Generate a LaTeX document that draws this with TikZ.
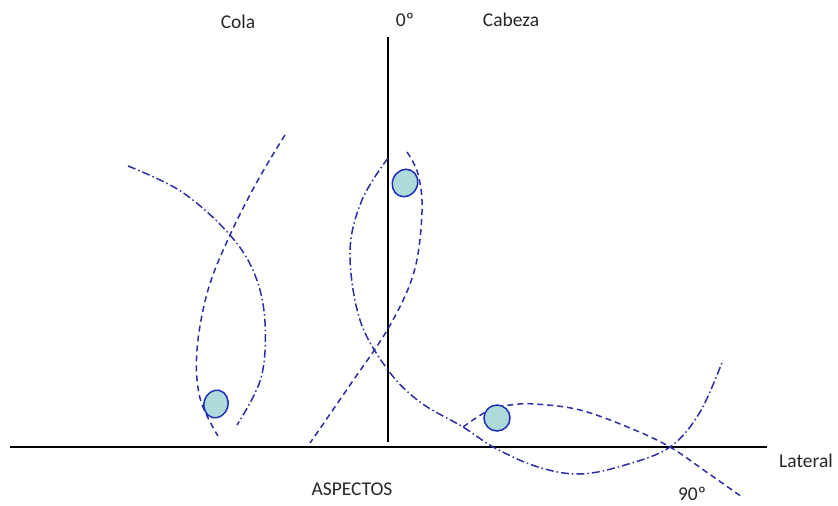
\documentclass[tikz,border=0pt]{standalone}
\usepackage{fontspec}
\setmainfont{Carlito}
\usetikzlibrary{shapes.geometric}
\definecolor{fishblue}{RGB}{45,45,165}
\definecolor{eyeedge}{RGB}{30,45,185}
\definecolor{eyefill}{RGB}{175,218,218}
\begin{document}
\begin{tikzpicture}[x=1pt,y=-1pt,
  axis/.style={line width=2.4pt,black},
  lbl/.style={font=\fontsize{19.5}{22}\selectfont,text=black!85,inner sep=0pt},
  dsh/.style={fishblue,line width=1.5pt,dash pattern=on 6pt off 4pt},
  dshdot/.style={fishblue,line width=1.5pt,dash pattern=on 8pt off 3pt on 1.5pt off 3pt},
  eye/.style={ellipse,draw=eyeedge,fill=eyefill,line width=1.5pt,inner sep=0pt}]
\useasboundingbox (0,0) rectangle (838,506);
% axes
\coordinate (hl) at (10,447);
\coordinate (hr) at (767,447);
\coordinate (vt) at (388,37);
\coordinate (vb) at (388,442);
\draw[axis] (hl) -- (hr);
\draw[axis] (vt) -- (vb);
% labels
\node[lbl] (cola) at (238,22) {Cola};
\node[lbl] (zero) at (405,20) {0º};
\node[lbl] (cabeza) at (511,20) {Cabeza};
\node[lbl] (lateral) at (806,461) {Lateral};
\node[lbl] (aspectos) at (352,489) {ASPECTOS};
\node[lbl] (ninety) at (692,494) {90º};
% left fish
\draw[dsh] plot[smooth,tension=0.6] coordinates {(285,135) (258,180) (230,235) (208,290) (197,350) (200,398) (218,436)};
\draw[dshdot] plot[smooth,tension=0.6] coordinates {(128,166) (182,192) (230,235) (255,275) (265,322) (261,378) (237,425)};
\node[eye,minimum width=24pt,minimum height=28pt,rotate=-15] (eye1) at (216,404) {};
% middle fish
\draw[dsh] plot[smooth,tension=0.6] coordinates {(407,152) (418,174) (422,212) (414,272) (389,327) (350,385) (310,443)};
\draw[dshdot] plot[smooth,tension=0.6] coordinates {(388,158) (362,200) (350,252) (360,320) (388,370) (420,402) (463,427) (495,448) (538,467) (580,474) (625,465) (670,447) (700,412) (723,360)};
\node[eye,minimum width=25pt,minimum height=28pt,rotate=-25] (eye2) at (405,183) {};
% right fish
\draw[dsh] plot[smooth,tension=0.6] coordinates {(463,427) (476,418) (490,410) (510,405) (535,404) (580,410) (630,428) (670,447) (705,471) (742,497)};
\node[eye,minimum width=26pt,minimum height=26pt] (eye3) at (497,418) {};
\end{tikzpicture}
\end{document}
